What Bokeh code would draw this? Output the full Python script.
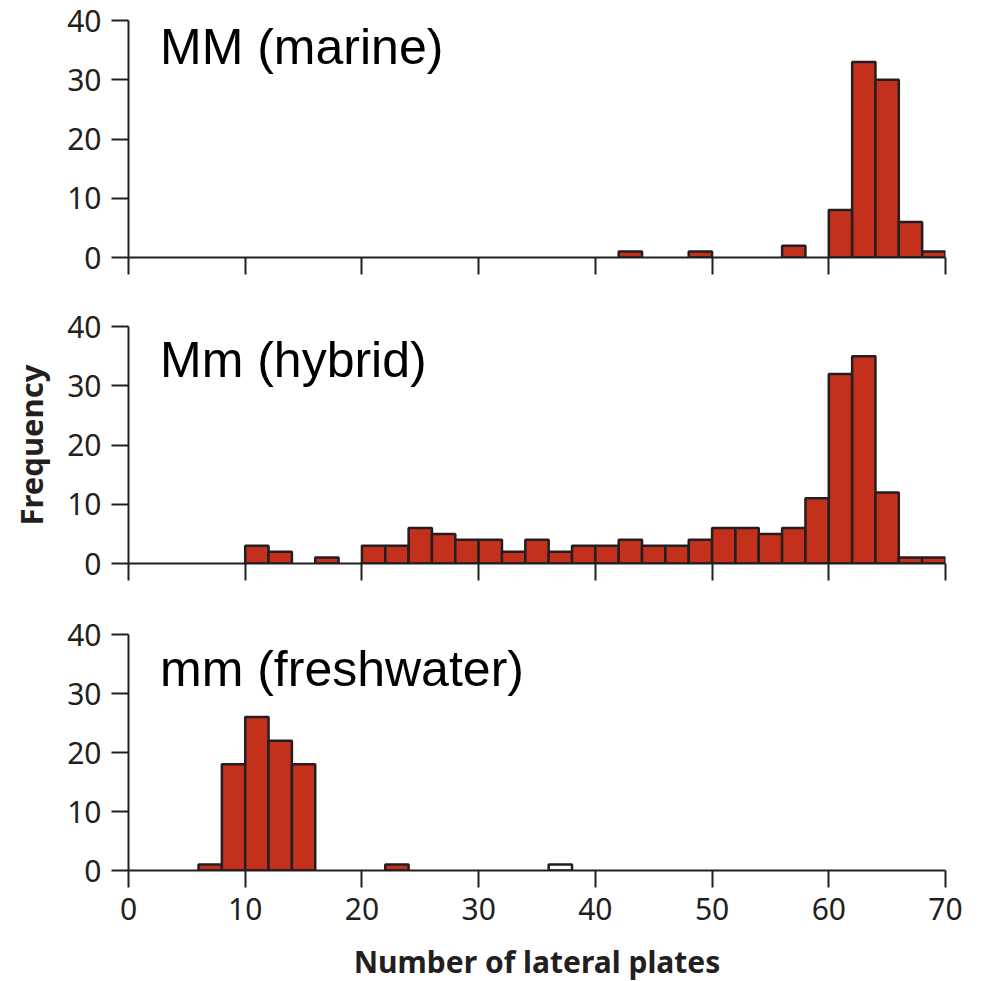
from bokeh.plotting import figure
from bokeh.layouts import column
from bokeh.models import Range1d, Label, FixedTicker, ColumnDataSource
from bokeh.embed import file_html
from bokeh.resources import INLINE

# ---- data (histogram bins of width 2, left edges and counts) ----
bin_width = 2
mm_marine_left = [42, 48, 56, 60, 62, 64, 66, 68]
mm_marine_count = [1, 1, 2, 8, 33, 30, 6, 1]

mm_hybrid_left = [10, 12, 16, 20, 22, 24, 26, 28, 30, 32, 34, 36, 38, 40, 42, 44,
                  46, 48, 50, 52, 54, 56, 58, 60, 62, 64, 66, 68]
mm_hybrid_count = [3, 2, 1, 3, 3, 6, 5, 4, 4, 2, 4, 2, 3, 3, 4, 3,
                   3, 4, 6, 6, 5, 6, 11, 32, 35, 12, 1, 1]

mm_fresh_left = [6, 8, 10, 12, 14, 22, 36]
mm_fresh_count = [1, 18, 26, 22, 18, 1, 1]

panel_titles = ["MM (marine)", "Mm (hybrid)", "mm (freshwater)"]
x_ticks = [0, 10, 20, 30, 40, 50, 60, 70]
y_ticks = [0, 10, 20, 30, 40]
x_label = "Number of lateral plates"
y_label = "Frequency"

RED = "#C3311C"
DARK = "#231F20"
TICK_FONT = "Noto Sans"


def make_panel(lefts, counts, title, title_y, fills, top_border, bottom_border,
               frame_h=237, show_x_labels=False, ylab=None):
    p = figure(frame_width=817, frame_height=frame_h,
               min_border_left=128, min_border_right=39,
               min_border_top=top_border, min_border_bottom=bottom_border,
               x_range=Range1d(0, 70), y_range=Range1d(0, 40),
               output_backend="svg", toolbar_location=None)
    p.outline_line_color = None
    p.xgrid.visible = False
    p.ygrid.visible = False
    p.background_fill_color = "white"
    p.border_fill_color = "white"

    src = ColumnDataSource(dict(
        left=lefts,
        right=[l + bin_width for l in lefts],
        top=counts,
        bottom=[0] * len(counts),
        fill=fills,
    ))
    p.quad(left="left", right="right", top="top", bottom="bottom", source=src,
           fill_color="fill", line_color=DARK, line_width=2.5)

    for ax, ticks in ((p.xaxis[0], x_ticks), (p.yaxis[0], y_ticks)):
        ax.ticker = FixedTicker(ticks=ticks)
        ax.minor_tick_line_color = None
        ax.major_tick_in = 0
        ax.major_tick_out = 17
        ax.axis_line_color = DARK
        ax.axis_line_width = 2
        ax.major_tick_line_color = DARK
        ax.major_tick_line_width = 2
        ax.major_label_text_font = TICK_FONT
        ax.major_label_text_font_size = "30px"
        ax.major_label_text_color = DARK
        ax.major_label_standoff = 10

    if not show_x_labels:
        p.xaxis.major_label_overrides = {t: "" for t in x_ticks}
        p.xaxis.major_label_standoff = 0
    else:
        p.xaxis.axis_label = x_label
        p.xaxis.axis_label_text_font = TICK_FONT
        p.xaxis.axis_label_text_font_style = "bold"
        p.xaxis.axis_label_text_font_size = "30px"
        p.xaxis.axis_label_text_color = DARK
        p.xaxis.axis_label_standoff = 18

    if ylab:
        p.yaxis.axis_label = ylab
        p.yaxis.axis_label_text_font = TICK_FONT
        p.yaxis.axis_label_text_font_style = "bold"
        p.yaxis.axis_label_text_font_size = "31px"
        p.yaxis.axis_label_text_color = DARK
        p.yaxis.axis_label_standoff = 12

    p.add_layout(Label(x=2.7, y=title_y, text=title, text_font="Liberation Sans",
                       text_font_size="50px", text_color="black",
                       text_baseline="alphabetic", text_align="left"))
    return p


p1 = make_panel(mm_marine_left, mm_marine_count, panel_titles[0], 35.6,
                [RED] * len(mm_marine_left), 20, 49)
p2 = make_panel(mm_hybrid_left, mm_hybrid_count, panel_titles[1], 34.4,
                [RED] * len(mm_hybrid_left), 20, 49, ylab=y_label)
fresh_fills = [RED] * (len(mm_fresh_left) - 1) + ["white"]
p3 = make_panel(mm_fresh_left, mm_fresh_count, panel_titles[2], 34.2,
                fresh_fills, 22, 113, frame_h=236, show_x_labels=True)

layout = column(p1, p2, p3, spacing=0)

open("out.html", "w").write(file_html(layout, INLINE))
